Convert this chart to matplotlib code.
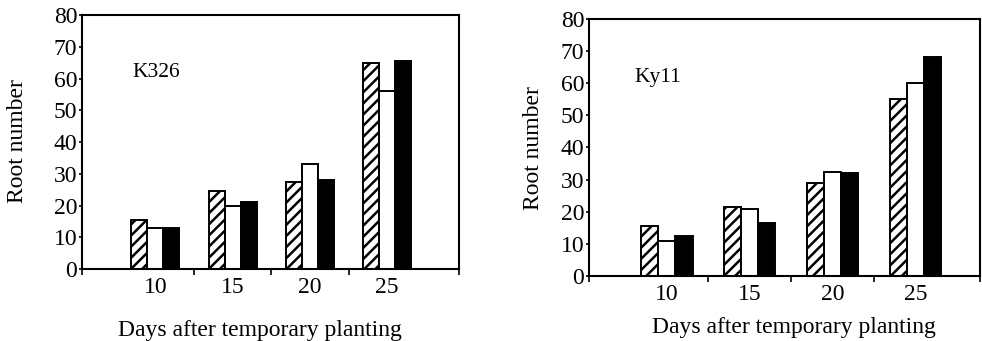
import matplotlib
matplotlib.use("Agg")
import matplotlib.pyplot as plt
import numpy as np

plt.rcParams['font.family'] = ['Liberation Serif', 'DejaVu Serif']
plt.rcParams['hatch.linewidth'] = 1.8

days = ['10', '15', '20', '25']
# K326
k326_hatched = [15.5, 24.5, 27.5, 65]
k326_open = [13, 20, 33, 56]
k326_black = [13, 21, 28, 65.5]
# Ky11
ky11_hatched = [15.5, 21.5, 29, 55]
ky11_open = [11, 21, 32.5, 60]
ky11_black = [12.5, 16.5, 32, 68]

yticks = [0, 10, 20, 30, 40, 50, 60, 70, 80]

fig = plt.figure(figsize=(9.82, 3.41), dpi=100)
ax1 = fig.add_axes([0.0835, 0.211, 0.384, 0.745])
ax2 = fig.add_axes([0.5998, 0.1906, 0.398, 0.754])

FS = 17

def draw(ax, hatched, opn, black, label, xlim, label_dx, xl_pos, yl_pos):
    x = np.arange(1, len(days) + 1)
    w = 0.207
    ax.bar(x - w, hatched, w, color='white', edgecolor='black', hatch='///', linewidth=1.4)
    ax.bar(x, opn, w, color='white', edgecolor='black', linewidth=1.4)
    ax.bar(x + w, black, w, color='black', edgecolor='black', linewidth=1.4)
    ax.set_xlim(*xlim)
    ax.set_ylim(0, 80)
    ax.set_yticks(yticks)
    ax.set_xticks(x)
    ax.set_xticklabels(days)
    ax.set_xticks([xlim[0], 1.5, 2.5, 3.5, xlim[1]], minor=True)
    ax.tick_params(axis='x', which='major', length=0, pad=6, labelsize=FS)
    ax.tick_params(axis='x', which='minor', length=4, width=1.2, direction='out')
    ax.tick_params(axis='y', length=2.5, width=1.2, direction='out', pad=1, labelsize=FS)
    for s in ax.spines.values():
        s.set_linewidth(1.5)
    ax.set_xlabel('Days after temporary planting', fontsize=FS, va='center', ha='center')
    ax.xaxis.set_label_coords(*xl_pos)
    ax.set_ylabel('Root number', fontsize=FS, va='center', ha='center')
    ax.yaxis.set_label_coords(*yl_pos)
    ax.text(xlim[0] + label_dx, 61.8, label, fontsize=15.5, ha='left', va='center')

draw(ax1, k326_hatched, k326_open, k326_black, 'K326', (0.05, 4.93), 0.65,
     (0.472, -0.24), (-0.170, 0.502))
draw(ax2, ky11_hatched, ky11_open, ky11_black, 'Ky11', (0.06, 4.78), 0.55,
     (0.524, -0.202), (-0.143, 0.498))

fig.savefig('out.png', dpi=100)
